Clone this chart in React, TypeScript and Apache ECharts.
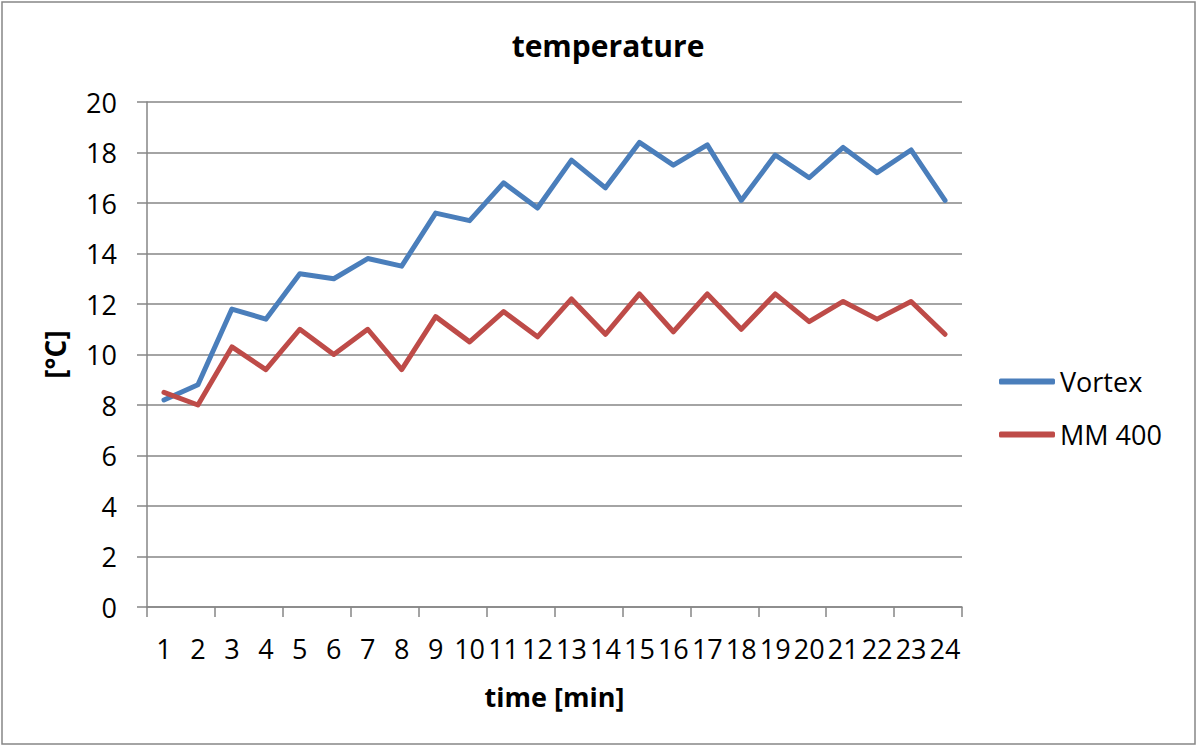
import React, { useEffect, useRef } from "react";
import * as echarts from "echarts";

const categories = ["1","2","3","4","5","6","7","8","9","10","11","12","13","14","15","16","17","18","19","20","21","22","23","24"];
const tickGroups = ["1-2","3-4","5-6","7-8","9-10","11-12","13-14","15-16","17-18","19-20","21-22","23-24"];
const vortex = [8.2, 8.8, 11.8, 11.4, 13.2, 13.0, 13.8, 13.5, 15.6, 15.3, 16.8, 15.8, 17.7, 16.6, 18.4, 17.5, 18.3, 16.1, 17.9, 17.0, 18.2, 17.2, 18.1, 16.1];
const mm400 = [8.5, 8.0, 10.3, 9.4, 11.0, 10.0, 11.0, 9.4, 11.5, 10.5, 11.7, 10.7, 12.2, 10.8, 12.4, 10.9, 12.4, 11.0, 12.4, 11.3, 12.1, 11.4, 12.1, 10.8];
const yTicks = { min: 0, max: 20, interval: 2 };
const seriesNames = ["Vortex", "MM 400"];
const colors = ["#4A7EBB", "#BE4B48"];

const FONT = "'Open Sans', 'Noto Sans', sans-serif";
const GRID = "#868686";

export default function App() {
  const ref = useRef<HTMLDivElement>(null);
  useEffect(() => {
    if (!ref.current) return;
    const chart = echarts.init(ref.current, null, { renderer: "svg" });
    chart.setOption({
      animation: false,
      backgroundColor: "#ffffff",
      textStyle: { fontFamily: FONT },
      graphic: [
        {
          type: "rect",
          shape: { x: 2, y: 2, width: 1193, height: 742 },
          style: { fill: "none", stroke: GRID, lineWidth: 1.5 },
          silent: true,
        },
        {
          type: "text",
          x: 608,
          y: 45,
          style: {
            text: "temperature",
            fontFamily: FONT,
            fontWeight: "bold",
            fontSize: 30,
            fill: "#000",
            textAlign: "center",
            textVerticalAlign: "middle",
          },
        },
      ],
      legend: {
        orient: "vertical",
        left: 994,
        top: 363,
        itemGap: 26,
        itemWidth: 56,
        itemHeight: 6,
        icon: "roundRect",
        textStyle: { fontFamily: FONT, fontSize: 27, color: "#000" },
        data: seriesNames,
      },
      grid: { left: 147, right: 238, top: 102, bottom: 140, containLabel: false },
      xAxis: [
        {
          type: "category",
          data: categories,
          boundaryGap: true,
          name: "time [min]",
          nameLocation: "middle",
          nameGap: 76,
          nameTextStyle: { fontFamily: FONT, fontWeight: "bold", fontSize: 27, color: "#000" },
          axisLine: { lineStyle: { color: GRID, width: 1.5 } },
          axisTick: { show: false },
          axisLabel: { interval: 0, margin: 28, fontFamily: FONT, fontSize: 27, color: "#000" },
          splitLine: { show: false },
        },
        {
          type: "category",
          data: tickGroups,
          boundaryGap: true,
          position: "bottom",
          axisLine: { show: false },
          axisTick: { show: true, interval: 0, length: 10, lineStyle: { color: GRID, width: 1.5 } },
          axisLabel: { show: false },
          splitLine: { show: false },
        },
      ],
      yAxis: {
        type: "value",
        min: yTicks.min,
        max: yTicks.max,
        interval: yTicks.interval,
        name: "[°C]",
        nameLocation: "middle",
        nameGap: 78,
        nameRotate: 90,
        nameTextStyle: { fontFamily: FONT, fontWeight: "bold", fontSize: 28, color: "#000" },
        axisLine: { show: true, lineStyle: { color: GRID, width: 1.5 } },
        axisTick: { show: true, length: 10, lineStyle: { color: GRID, width: 1.5 } },
        axisLabel: { margin: 30, fontFamily: FONT, fontSize: 27, color: "#000" },
        splitLine: { show: true, lineStyle: { color: GRID, width: 1.5 } },
      },
      series: [
        {
          name: seriesNames[0],
          type: "line",
          data: vortex,
          showSymbol: false,
          symbol: "none",
          color: colors[0],
          lineStyle: { width: 5, color: colors[0], cap: "round", join: "round" },
        },
        {
          name: seriesNames[1],
          type: "line",
          data: mm400,
          showSymbol: false,
          symbol: "none",
          color: colors[1],
          lineStyle: { width: 5, color: colors[1], cap: "round", join: "round" },
        },
      ],
    });
    return () => chart.dispose();
  }, []);
  return (
    <div
      ref={ref}
      style={{ position: "fixed", left: 0, top: 0, width: 1200, height: 747, background: "#fff" }}
    />
  );
}
